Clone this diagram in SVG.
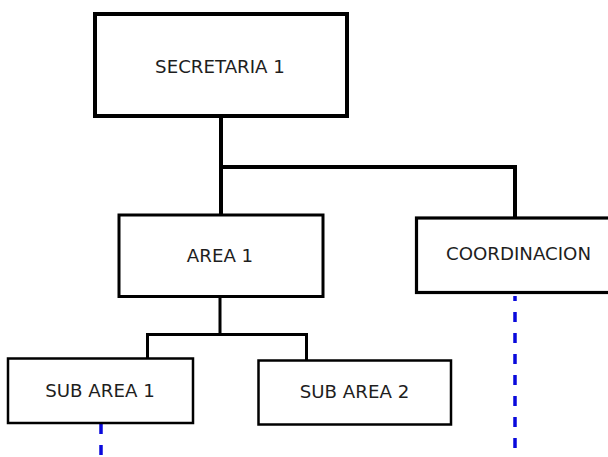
<svg xmlns="http://www.w3.org/2000/svg" width="608" height="457" viewBox="0 0 608 457">
  <style>
    .box { fill: #ffffff; stroke: #000000; }
    .lbl { font-family: "DejaVu Sans", Verdana, sans-serif; font-size: 18.2px; fill: #1e1e1e; text-anchor: middle; }
    .wire { fill: none; stroke: #000000; stroke-linecap: square; }
    .dash { fill: none; stroke: #0a0adc; stroke-width: 3.5; stroke-dasharray: 10 11; }
  </style>
  <rect width="608" height="457" fill="#ffffff"/>

  <!-- solid hierarchy lines and dashed blue links -->
  <g id="connectors">
    <path class="wire" stroke-width="4" d="M221 118 V215 M221 167 H515 V218"/>
    <path class="wire" stroke-width="3" d="M220 297 V334.5 M147.5 334.5 H306.5 M147.5 334.5 V358 M306.5 334.5 V360"/>
    <line class="dash" x1="515" y1="296" x2="515" y2="457" stroke-dashoffset="5"/>
    <line class="dash" x1="101" y1="424" x2="101" y2="457"/>
  </g>

  <g id="secretaria">
    <rect class="box" x="95" y="14" width="252" height="102" stroke-width="4"/>
    <text class="lbl" x="220" y="73">SECRETARIA 1</text>
  </g>

  <g id="area1">
    <rect class="box" x="119" y="215" width="204" height="81.5" stroke-width="3"/>
    <text class="lbl" x="220" y="262">AREA 1</text>
  </g>

  <g id="coordinacion">
    <rect class="box" x="416.5" y="218" width="200" height="74.5" stroke-width="3.2"/>
    <text class="lbl" x="518.5" y="260">COORDINACION</text>
  </g>

  <g id="subarea1">
    <rect class="box" x="8" y="358.5" width="185" height="64.5" stroke-width="2.5"/>
    <text class="lbl" x="100" y="397">SUB AREA 1</text>
  </g>

  <g id="subarea2">
    <rect class="box" x="258.5" y="360.5" width="192.5" height="64" stroke-width="2.5"/>
    <text class="lbl" x="354.5" y="398">SUB AREA 2</text>
  </g>
</svg>
